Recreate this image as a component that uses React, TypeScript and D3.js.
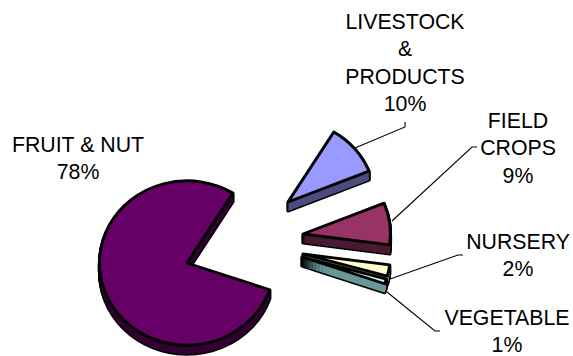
import React from "react";
import * as d3 from "d3";

const categories = ["FRUIT & NUT", "LIVESTOCK & PRODUCTS", "FIELD CROPS", "NURSERY", "VEGETABLE"];
const sliceValues = [78.5, 10.1, 8.25, 2.2, 0.95];
const percentLabels = ["78%", "10%", "9%", "2%", "1%"];
const topColors = ["#660066", "#9999ff", "#993366", "#ffffcc", "#ccffff"];
const sideColors = ["#330033", "#4d4d80", "#4d1a33", "#808066", "#669999"];
const explode: [number, number][] = [[0, 0], [101, -61], [116, -29], [116, -9], [115, -6]];
const labelNames: string[][] = [
  ["FRUIT & NUT"],
  ["LIVESTOCK", "&", "PRODUCTS"],
  ["FIELD", "CROPS"],
  ["NURSERY"],
  ["VEGETABLE"],
];
const labelAnchors: [number, number][] = [[78, 152], [405, 29], [518, 128], [518, 249], [507, 325]];
const leaders: [number, number][][] = [
  [],
  [[355, 148], [405, 127], [405, 122]],
  [[392, 221], [472, 147], [477, 147]],
  [[390, 279], [458, 255], [463, 255]],
  [[387, 292], [435, 331], [440, 331]],
];

const CX = 187, CY = 263, R = 87.5, TILT = 0.94, DEPTH = 9;
const START = 109;

export default function App() {
  const pie = d3.pie<number>().sort(null)
    .startAngle((START * Math.PI) / 180)
    .endAngle(((START + 360) * Math.PI) / 180);
  const arcs = pie(sliceValues);
  const arc = d3.arc<d3.PieArcDatum<number>>().innerRadius(0).outerRadius(R);
  const depths = d3.range(DEPTH, 0, -1);
  return (
    <svg width={573} height={356} style={{ position: "absolute", left: 0, top: 0 }} fontFamily="Liberation Sans, Arial, sans-serif" fontSize={21.3}>
      <rect width={573} height={356} fill="#fff" />
      {leaders.map((pts, i) => pts.length ? (
        <path key={i} d={d3.line()(pts) as string} fill="none" stroke="#000" strokeWidth={1.1} />
      ) : null)}
      {arcs.map((a, i) => {
        const d = arc(a) as string;
        const t = (y: number) => `translate(${CX + explode[i][0]},${CY + explode[i][1] + y}) scale(1,${TILT})`;
        return (
          <g key={i}>
            {depths.map((y) => (
              <path key={y} d={d} transform={t(y)} fill="#000" stroke="#000" strokeWidth={3.2} strokeLinejoin="round" />
            ))}
            {depths.map((y) => (
              <path key={y} d={d} transform={t(y)} fill={sideColors[i]} />
            ))}
            <path d={d} transform={t(0)} fill={topColors[i]} stroke="#000" strokeWidth={3} strokeLinejoin="round" />
          </g>
        );
      })}
      {labelNames.map((lines, i) => (
        <text key={categories[i]} textAnchor="middle" fill="#000">
          {[...lines, percentLabels[i]].map((s, j) => (
            <tspan key={j} x={labelAnchors[i][0]} y={labelAnchors[i][1] + j * 27.4}>{s}</tspan>
          ))}
        </text>
      ))}
    </svg>
  );
}
